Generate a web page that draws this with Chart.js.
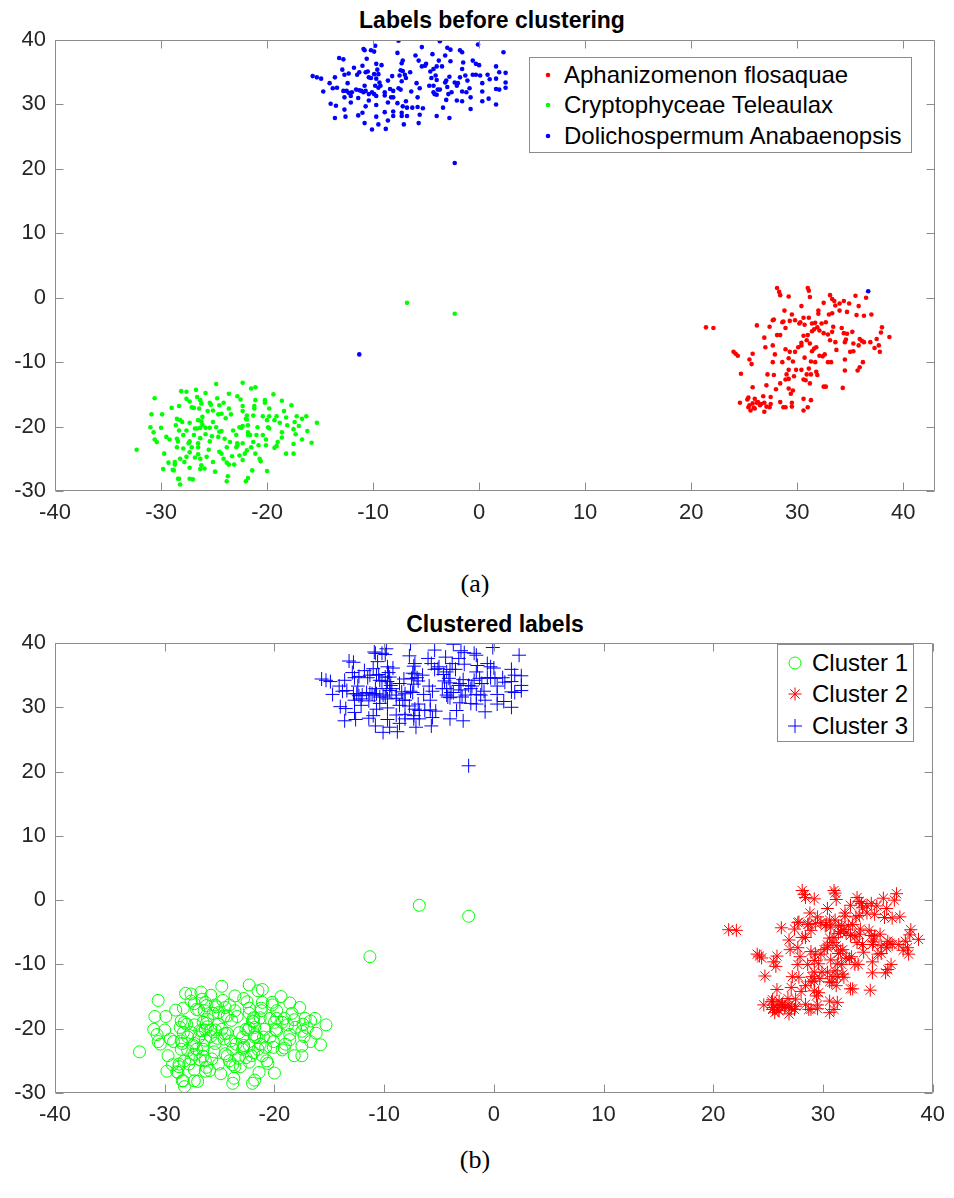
<!DOCTYPE html>
<html>
<head>
<meta charset="utf-8">
<script src="https://cdn.jsdelivr.net/npm/chart.js@4.4.1/dist/chart.umd.min.js"></script>
<style>
  html,body{margin:0;padding:0;background:#fff;}
  body{width:954px;height:1198px;position:relative;overflow:hidden;font-family:"Liberation Sans",Arial,sans-serif;}
  canvas{position:absolute;left:0;}
  .title{position:absolute;left:0;width:984px;text-align:center;font-weight:bold;font-size:23px;line-height:23px;color:#000;}
  .caption{position:absolute;left:0;width:950px;text-align:center;font-family:"Liberation Serif","Times New Roman",serif;font-size:26px;line-height:26px;color:#000;}
  .legend{position:absolute;background:#fff;border:1px solid #8c8c8c;box-sizing:border-box;}
  .legend .row{position:absolute;left:0;height:26px;white-space:nowrap;}
  .legend .row svg{position:absolute;top:0;}
  .legend .row span{position:absolute;top:0;font-size:24px;line-height:26px;color:#000;}
</style>
</head>
<body>
<div class="title" style="top:9px;">Labels before clustering</div>
<canvas id="c1" width="954" height="545" style="top:0px;"></canvas>
<div class="caption" style="top:571px;">(a)</div>
<div class="title" style="top:613px;width:990px;">Clustered labels</div>
<canvas id="c2" width="954" height="545" style="top:600px;"></canvas>
<div class="caption" style="top:1147px;">(b)</div>

<div class="legend" id="leg1" style="left:529px;top:57px;width:383px;height:96px;"></div>
<div class="legend" id="leg2" style="left:777px;top:644px;width:137px;height:98px;"></div>

<script>
// ---------------- DATA ----------------
const seriesNames = ["Aphanizomenon flosaquae", "Cryptophyceae Teleaulax", "Dolichospermum Anabaenopsis"];
const clusterNames = ["Cluster 1", "Cluster 2", "Cluster 3"];
const xTicksTop = [-40, -30, -20, -10, 0, 10, 20, 30, 40];
const yTicks = [-30, -20, -10, 0, 10, 20, 30, 40];

// Aphanizomenon flosaquae (red)
const aphanizomenon = [
[28.1,1.5],[31.0,1.5],[31.1,1.1],[28.3,0.9],[28.4,0.4],[29.2,0.2],[31.2,0.1],[33.1,0.4],[33.3,-0.2],[33.5,-0.5],
[32.5,-0.8],[33.6,-1.2],[34.0,-0.9],[34.4,-0.5],[34.9,-0.9],[35.5,0.3],[35.8,-1.3],[36.5,0.0],[30.4,-1.3],[28.8,-2.0],
[29.5,-2.6],[30.6,-3.1],[31.1,-3.1],[30.3,-3.8],[29.8,-3.5],[27.7,-3.5],[27.8,-3.4],[28.6,-3.8],[28.7,-3.7],[29.3,-3.6],
[26.2,-4.3],[27.4,-4.5],[28.9,-4.7],[30.2,-4.0],[30.7,-4.2],[31.4,-4.0],[31.7,-3.9],[31.9,-4.6],[32.3,-4.0],[32.7,-3.8],
[33.0,-2.6],[33.3,-2.4],[34.0,-2.0],[34.7,-2.2],[35.6,-2.7],[36.3,-2.8],[37.0,-2.6],[32.0,-2.0],[32.0,-2.5],[31.6,-4.9],
[32.1,-5.1],[32.5,-5.5],[32.9,-5.7],[33.3,-5.3],[33.4,-4.5],[34.2,-4.7],[34.4,-5.5],[34.7,-5.6],[35.2,-5.3],[33.1,-6.6],
[33.6,-6.9],[33.7,-8.1],[34.5,-6.9],[34.6,-6.5],[35.3,-7.1],[35.9,-6.4],[36.1,-6.7],[36.3,-6.9],[36.9,-6.9],[37.5,-6.4],
[38.0,-4.6],[37.9,-5.4],[38.7,-6.1],[37.7,-7.4],[37.3,-7.8],[37.8,-8.4],[35.8,-7.4],[35.0,-8.4],[35.3,-8.3],[34.5,-9.6],
[36.2,-10.0],[35.9,-10.8],[35.7,-11.3],[34.5,-11.3],[34.3,-14.0],[21.4,-4.6],[22.1,-4.7],[24.0,-8.4],[24.2,-8.7],[24.4,-9.0],
[25.8,-8.7],[25.5,-9.6],[25.7,-10.3],[26.9,-6.2],[27.0,-7.7],[27.7,-7.4],[28.1,-5.8],[28.4,-5.8],[27.9,-8.8],[27.7,-10.0],
[28.6,-10.0],[28.9,-8.0],[29.3,-8.4],[29.2,-9.4],[29.6,-9.9],[29.8,-8.4],[30.1,-7.7],[30.4,-7.4],[30.4,-7.0],[30.9,-6.6],
[31.2,-7.1],[30.6,-5.9],[31.0,-5.8],[31.4,-5.2],[31.4,-8.3],[31.8,-7.7],[31.6,-7.9],[32.1,-9.0],[32.4,-9.1],[32.6,-8.8],
[32.9,-10.0],[33.2,-10.0],[31.7,-10.0],[31.3,-9.9],[30.7,-9.3],[31.1,-11.0],[30.4,-11.2],[29.9,-11.2],[29.2,-11.2],[29.0,-11.9],
[29.2,-12.6],[29.7,-12.2],[30.6,-12.7],[30.9,-11.9],[31.3,-11.9],[31.8,-11.5],[31.9,-12.0],[30.8,-12.8],[31.2,-13.3],[32.5,-13.8],
[32.7,-13.8],[24.7,-11.8],[25.8,-13.9],[27.2,-11.9],[27.8,-12.0],[27.1,-13.6],[28.0,-14.2],[28.4,-13.3],[28.9,-12.7],[29.2,-14.1],
[29.6,-14.4],[29.4,-14.9],[30.6,-15.7],[31.3,-15.9],[28.4,-16.2],[28.7,-17.0],[28.9,-17.0],[29.5,-16.3],[29.5,-16.9],[25.4,-15.5],
[25.3,-15.8],[24.6,-16.3],[25.5,-16.7],[25.8,-16.4],[26.0,-15.7],[26.2,-16.3],[26.3,-16.2],[26.6,-16.5],[25.9,-17.1],[25.6,-17.5],
[26.0,-17.2],[26.9,-16.3],[27.5,-16.5],[27.1,-16.9],[27.4,-17.0],[26.9,-17.7],[26.5,-16.7],[30.6,-17.5],[31.0,-17.0],[26.8,-15.3],
[27.5,-15.4],[25.4,-17.0]
];

// Cryptophyceae Teleaulax (green)
const cryptophyceae = [
[-32.3,-23.6],[-30.6,-15.6],[-30.9,-18.1],[-29.9,-18.1],[-31.0,-20.1],[-30.0,-20.2],[-30.7,-20.9],[-30.6,-22.0],[-30.4,-22.4],[-29.7,-24.2],
[-29.5,-21.6],[-29.2,-22.0],[-29.8,-26.6],[-29.3,-25.6],[-28.9,-26.7],[-29.0,-17.1],[-28.6,-19.8],[-28.5,-18.8],[-28.3,-16.8],[-28.2,-19.0],
[-28.0,-19.3],[-28.3,-20.6],[-28.5,-21.9],[-28.4,-22.3],[-28.5,-23.2],[-28.1,-14.5],[-27.6,-14.6],[-27.6,-15.7],[-27.3,-16.1],[-27.1,-17.0],
[-26.9,-17.1],[-26.7,-14.3],[-26.6,-15.4],[-26.3,-15.9],[-26.2,-16.4],[-26.4,-17.2],[-26.1,-18.5],[-26.5,-19.0],[-26.2,-19.2],[-26.1,-19.7],
[-25.8,-14.8],[-25.6,-17.6],[-25.8,-20.2],[-25.4,-16.3],[-25.3,-16.6],[-25.1,-17.5],[-25.1,-19.3],[-25.4,-20.2],[-24.8,-13.4],[-24.7,-15.6],
[-24.5,-16.7],[-24.6,-18.1],[-24.3,-18.0],[-23.9,-18.7],[-24.1,-16.3],[-23.6,-14.9],[-23.6,-17.2],[-23.4,-18.1],[-22.8,-15.3],[-22.5,-15.8],
[-22.3,-13.2],[-22.3,-16.8],[-22.3,-17.6],[-21.9,-18.3],[-22.0,-18.8],[-21.8,-19.8],[-22.3,-19.9],[-21.9,-18.9],[-21.5,-14.1],[-21.1,-13.9],
[-21.1,-15.9],[-21.2,-16.8],[-21.2,-17.2],[-21.3,-18.3],[-20.9,-20.1],[-20.4,-18.4],[-20.2,-15.9],[-20.2,-16.3],[-19.8,-17.2],[-19.8,-18.4],
[-20.0,-19.0],[-19.9,-20.1],[-19.4,-15.0],[-19.3,-19.0],[-19.1,-18.4],[-18.6,-16.0],[-18.4,-17.6],[-18.8,-19.4],[-18.2,-18.6],[-18.1,-19.8],
[-17.7,-16.7],[-17.4,-19.3],[-17.2,-18.4],[-16.7,-18.8],[-16.3,-18.4],[-15.3,-19.4],[-17.0,-19.9],[-17.5,-20.4],[-17.3,-21.2],[-16.2,-20.7],
[-16.7,-22.0],[-15.8,-22.5],[-17.5,-22.7],[-18.2,-24.2],[-17.5,-24.2],[-18.6,-20.9],[-18.6,-21.7],[-19.0,-22.4],[-19.1,-23.0],[-19.3,-23.3],
[-20.1,-22.9],[-20.4,-21.3],[-20.1,-22.0],[-19.8,-20.3],[-26.8,-20.3],[-27.3,-19.4],[-27.6,-20.6],[-27.9,-21.3],[-27.3,-22.3],[-26.9,-21.3],
[-26.6,-20.3],[-26.3,-21.8],[-26.3,-20.2],[-25.8,-21.2],[-25.4,-22.3],[-25.2,-21.5],[-24.6,-21.6],[-24.8,-20.1],[-24.5,-20.8],[-24.3,-20.7],
[-24.0,-21.9],[-23.8,-23.2],[-23.5,-22.4],[-23.2,-20.6],[-22.9,-21.3],[-22.8,-22.9],[-22.6,-20.1],[-22.4,-20.2],[-22.3,-22.6],[-21.8,-20.9],
[-21.8,-21.3],[-21.6,-21.3],[-21.5,-23.2],[-21.3,-22.4],[-21.1,-24.2],[-20.8,-22.9],[-21.0,-21.3],[-20.7,-25.0],[-20.6,-25.4],[-21.9,-23.7],
[-22.1,-24.2],[-22.3,-25.2],[-22.6,-24.5],[-23.3,-24.6],[-23.1,-25.9],[-23.6,-25.9],[-23.8,-25.6],[-24.1,-25.0],[-24.5,-23.9],[-24.3,-24.2],
[-25.1,-25.5],[-24.9,-27.0],[-25.5,-23.6],[-25.7,-24.7],[-26.3,-25.0],[-26.5,-24.3],[-26.5,-23.2],[-26.2,-26.0],[-25.9,-26.5],[-26.3,-26.6],
[-27.3,-24.0],[-27.6,-24.7],[-27.8,-25.5],[-28.7,-25.5],[-28.7,-25.9],[-28.8,-26.8],[-28.4,-28.1],[-28.3,-28.1],[-28.2,-29.0],[-27.3,-26.4],
[-27.3,-28.1],[-27.0,-28.2],[-23.8,-28.5],[-23.7,-27.7],[-22.0,-28.5],[-21.8,-28.0],[-21.4,-26.8],[-20.0,-26.9],[-22.8,-22.6],[-22.9,-23.2],
[-26.5,-22.6],[-27.4,-22.6],[-27.9,-23.4],[-28.2,-25.0],[-27.1,-23.2],[-26.8,-24.8],
[-6.8,-0.8],[-2.3,-2.5]
];

// Dolichospermum Anabaenopsis (blue) - main group
const dolichospermumMain = [
[-7.6,39.9],[-3.7,39.8],[-0.1,39.3],[-9.8,39.1],[-10.9,38.6],[-10.8,38.4],[-10.2,38.4],[-9.9,38.2],[-5.4,38.9],[-3.0,38.8],
[-2.7,38.5],[-1.8,38.4],[-1.6,38.1],[2.3,38.1],[-7.7,38.0],[-13.2,37.2],[-12.8,37.0],[-10.6,37.1],[-7.2,36.8],[-7.3,36.4],
[-6.0,37.6],[-5.7,36.8],[-5.1,36.0],[-5.4,35.9],[-5.0,36.3],[-4.4,37.8],[-3.8,36.8],[-3.2,37.6],[-2.7,36.7],[-1.5,36.5],
[-0.6,36.8],[-0.3,36.3],[0.0,36.1],[-4.0,35.9],[-3.5,35.9],[-4.3,35.5],[-4.6,35.1],[-7.4,35.3],[-7.2,35.2],[-6.5,35.0],
[-9.7,36.3],[-9.2,36.1],[-9.6,35.4],[-12.9,35.4],[-12.7,34.6],[-12.3,34.8],[-11.8,35.7],[-11.5,34.6],[-11.3,35.0],[-10.7,35.0],
[-10.5,35.1],[-9.9,34.7],[-9.5,34.7],[-11.0,36.0],[-15.7,34.4],[-15.3,34.2],[-14.9,34.0],[-13.6,34.2],[-14.1,33.3],[-13.8,32.5],
[-13.4,32.6],[-14.7,32.0],[-12.4,33.3],[-12.8,32.1],[-12.5,32.1],[-12.3,31.8],[-12.0,31.9],[-11.6,32.3],[-11.3,32.2],[-11.1,32.1],
[-10.9,31.9],[-10.7,32.1],[-10.4,34.2],[-10.2,34.1],[-9.7,34.0],[-9.4,33.4],[-9.3,32.9],[-9.8,32.9],[-9.5,32.6],[-10.8,32.9],
[-10.1,31.9],[-9.9,31.6],[-9.7,31.3],[-8.9,31.9],[-8.9,31.4],[-8.4,32.4],[-8.1,32.1],[-7.6,32.5],[-7.4,32.3],[-8.6,33.7],
[-8.2,34.4],[-7.5,34.5],[-7.0,34.6],[-6.9,34.1],[-7.3,33.6],[-12.7,31.1],[-12.1,31.3],[-11.4,31.0],[-10.4,31.6],[-14.0,30.1],
[-13.5,29.8],[-12.7,29.2],[-13.6,27.9],[-12.6,28.1],[-12.1,30.3],[-10.7,29.7],[-10.4,30.6],[-9.7,29.9],[-8.6,30.3],[-8.3,31.1],
[-8.1,31.1],[-7.7,30.2],[-7.2,29.7],[-6.9,30.5],[-6.8,29.5],[-6.3,29.5],[-5.8,29.6],[-5.3,29.4],[-5.8,31.1],[-5.6,32.5],
[-5.9,33.3],[-6.4,32.0],[-9.7,28.1],[-11.4,28.3],[-11.0,28.7],[-10.8,27.1],[-10.1,26.1],[-9.5,26.9],[-8.9,28.8],[-8.8,26.2],
[-8.6,27.5],[-8.1,28.9],[-8.1,28.2],[-7.3,28.7],[-7.3,28.2],[-7.1,26.9],[-6.8,28.2],[-5.7,27.1],[-5.6,28.4],[-4.7,32.9],
[-4.3,32.9],[-4.5,34.1],[-4.1,34.5],[-4.0,33.8],[-3.9,32.3],[-4.3,31.9],[-4.2,31.6],[-4.0,31.5],[-3.7,32.3],[-3.4,29.5],
[-4.0,28.2],[-2.8,27.9],[-3.1,30.7],[-2.9,31.6],[-2.6,31.9],[-3.0,32.7],[-3.2,33.4],[-3.1,33.7],[-2.8,34.3],[-2.3,33.4],
[-2.1,32.9],[-2.0,33.3],[-1.8,34.2],[-1.6,35.5],[-1.3,34.5],[-1.1,33.7],[-0.9,32.5],[-0.8,31.1],[-1.6,32.0],[-2.1,30.6],
[-1.6,30.5],[-1.2,31.9],[-0.6,34.6],[-0.3,34.6],[0.1,34.5],[0.8,34.6],[1.0,33.9],[0.3,33.3],[1.6,35.9],[1.6,34.0],
[1.9,35.0],[2.5,34.9],[2.5,33.4],[2.5,32.6],[1.6,32.4],[1.9,32.3],[0.3,32.0],[0.3,30.5],[0.9,30.9],[1.6,30.0],
[-0.8,29.3],[-2.3,20.9]
];
// Dolichospermum points that fall near other groups
const dolichospermumNearGreen = [[-11.3,-8.8]];
const dolichospermumNearRed = [[36.7,1.0]];

// ---------------- HELPERS ----------------
const toXY = arr => arr.map(p => ({x: p[0], y: p[1]}));
Chart.defaults.font.family = '"Liberation Sans", Arial, sans-serif';

const frame = {
  id: 'frame',
  afterDatasetsDraw(chart) {
    const {ctx, chartArea: a, scales: {x, y}} = chart;
    const L = 8;
    ctx.save();
    ctx.strokeStyle = '#8c8c8c';
    ctx.lineWidth = 1;
    ctx.beginPath();
    const l = Math.round(a.left) + 0.5, r = Math.round(a.right) - 0.5;
    const t = Math.round(a.top) + 0.5, b = Math.round(a.bottom) - 0.5;
    ctx.moveTo(l, t); ctx.lineTo(r, t); ctx.lineTo(r, b); ctx.lineTo(l, b); ctx.closePath();
    x.ticks.forEach(tk => {
      const px = Math.round(x.getPixelForValue(tk.value)) + 0.5;
      ctx.moveTo(px, b); ctx.lineTo(px, b - L);
      ctx.moveTo(px, t); ctx.lineTo(px, t + L);
    });
    y.ticks.forEach(tk => {
      const py = Math.round(y.getPixelForValue(tk.value)) + 0.5;
      ctx.moveTo(l, py); ctx.lineTo(l + L, py);
      ctx.moveTo(r, py); ctx.lineTo(r - L, py);
    });
    ctx.stroke();
    ctx.restore();
  }
};

function makeChart(id, datasets, xMax, padTop, xAxisH) {
  return new Chart(document.getElementById(id), {
    type: 'scatter',
    data: {datasets},
    options: {
      responsive: false,
      animation: false,
      events: [],
      layout: {padding: {top: padTop, right: 19, left: 0, bottom: 0}},
      plugins: {legend: {display: false}, tooltip: {enabled: false}, title: {display: false}},
      scales: {
        x: {
          type: 'linear', min: -40, max: xMax,
          ticks: {stepSize: 10, includeBounds: false, padding: 9, color: '#262626', font: {size: 22}, maxRotation: 0, autoSkip: false},
          grid: {display: false, drawTicks: false},
          border: {display: false},
          afterFit(s) { s.height = xAxisH; }
        },
        y: {
          type: 'linear', min: -30, max: 40,
          ticks: {stepSize: 10, includeBounds: false, padding: 9, color: '#262626', font: {size: 22}, autoSkip: false},
          grid: {display: false, drawTicks: false},
          border: {display: false},
          afterFit(s) { s.width = 55; }
        }
      }
    },
    plugins: [frame]
  });
}

// ---------------- CHART (a) ----------------
const dotStyle = c => ({pointStyle: 'circle', pointRadius: 2.3, pointBackgroundColor: c, pointBorderWidth: 0, borderColor: c, backgroundColor: c, showLine: false});
makeChart('c1', [
  Object.assign({label: seriesNames[0], data: toXY(aphanizomenon)}, dotStyle('#ff0000')),
  Object.assign({label: seriesNames[1], data: toXY(cryptophyceae)}, dotStyle('#00ff00')),
  Object.assign({label: seriesNames[2], data: toXY(dolichospermumMain.concat(dolichospermumNearGreen, dolichospermumNearRed))}, dotStyle('#0000ff'))
], 43, 40, 54);

// ---------------- CHART (b) ----------------
const cluster1 = cryptophyceae.concat(dolichospermumNearGreen);
const cluster2 = aphanizomenon.concat(dolichospermumNearRed);
const cluster3 = dolichospermumMain;
makeChart('c2', [
  {label: clusterNames[0], data: toXY(cluster1), pointStyle: 'circle', pointRadius: 6, pointBorderWidth: 1, pointBorderColor: '#00ff00', pointBackgroundColor: 'rgba(0,0,0,0)', showLine: false},
  {label: clusterNames[1], data: toXY(cluster2), pointStyle: 'star', pointRadius: 6.5, pointBorderWidth: 1, pointBorderColor: '#ff0000', pointBackgroundColor: 'rgba(0,0,0,0)', showLine: false},
  {label: clusterNames[2], data: toXY(cluster3), pointStyle: 'cross', pointRadius: 7, pointBorderWidth: 1, pointBorderColor: '#0000ff', pointBackgroundColor: 'rgba(0,0,0,0)', showLine: false}
], 40, 43, 52);

// ---------------- LEGENDS ----------------
function addRow(legId, top, markerSvg, text) {
  const leg = document.getElementById(legId);
  const row = document.createElement('div');
  row.className = 'row';
  row.style.top = top + 'px';
  row.innerHTML = markerSvg + '<span style="left:34px;">' + text + '</span>';
  leg.appendChild(row);
}
const dotSvg = c => '<svg width="26" height="26" style="left:5px"><circle cx="13" cy="13" r="2.3" fill="' + c + '"/></svg>';
const legColors = ['#ff0000', '#00ff00', '#0000ff'];
[4, 34, 65].forEach((t, i) => addRow('leg1', t, dotSvg(legColors[i]), seriesNames[i]));

const circSvg = '<svg width="26" height="26" style="left:4px"><circle cx="13" cy="13" r="6" fill="none" stroke="#00ff00" stroke-width="1"/></svg>';
const starSvg = '<svg width="26" height="26" style="left:4px"><g stroke="#ff0000" stroke-width="1"><line x1="13" y1="6.5" x2="13" y2="19.5"/><line x1="6.5" y1="13" x2="19.5" y2="13"/><line x1="8.4" y1="8.4" x2="17.6" y2="17.6"/><line x1="8.4" y1="17.6" x2="17.6" y2="8.4"/></g></svg>';
const plusSvg = '<svg width="26" height="26" style="left:4px"><g stroke="#0000ff" stroke-width="1"><line x1="13" y1="6" x2="13" y2="20"/><line x1="6" y1="13" x2="20" y2="13"/></g></svg>';
addRow('leg2', 5, circSvg, clusterNames[0]);
addRow('leg2', 36, starSvg, clusterNames[1]);
addRow('leg2', 68, plusSvg, clusterNames[2]);
</script>
</body>
</html>
